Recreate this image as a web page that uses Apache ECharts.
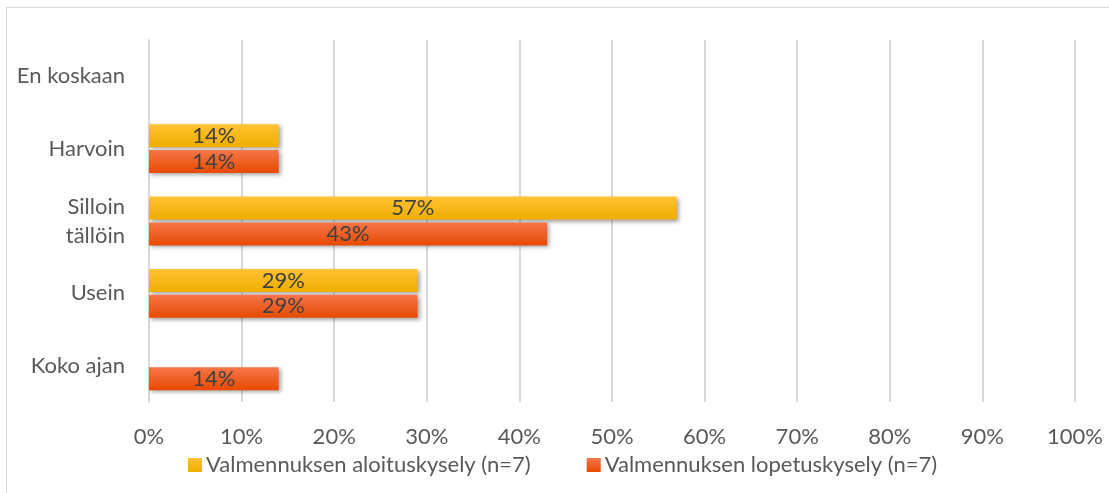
<!DOCTYPE html>
<html>
<head>
<meta charset="utf-8">
<script src="https://cdn.jsdelivr.net/npm/echarts@6/dist/echarts.min.js"></script>
<style>
html,body{margin:0;padding:0;background:#fff;}
#c{width:1109px;height:493px;}
</style>
</head>
<body>
<div id="c"></div>
<script>
const categories = ['En koskaan', 'Harvoin', 'Silloin\ntällöin', 'Usein', 'Koko ajan'];
const seriesNames = ['Valmennuksen aloituskysely (n=7)', 'Valmennuksen lopetuskysely (n=7)'];
const aloitus = [0, 14, 57, 29, 0];
const lopetus = [0, 14, 43, 29, 14];
const xTicks = [0, 10, 20, 30, 40, 50, 60, 70, 80, 90, 100];

const FONT = 'Lato';
const FS = 22;
const chart = echarts.init(document.getElementById('c'));

function grad(c1, c2) {
  return new echarts.graphic.LinearGradient(0, 0, 0, 1, [
    {offset: 0, color: c1}, {offset: 1, color: c2}
  ]);
}
const label = {
  show: true, position: 'inside', color: '#404040', fontSize: FS, fontFamily: FONT,
  formatter: p => p.value > 0 ? p.value + '%' : ''
};
const common = {
  type: 'bar', barWidth: 23, barGap: '12%', label: label,
  itemStyle: {shadowColor: 'rgba(0,0,0,0.35)', shadowBlur: 4, shadowOffsetX: 2, shadowOffsetY: 2}
};

chart.setOption({
  animation: false,
  textStyle: {fontFamily: FONT},
  graphic: [{
    type: 'rect', shape: {x: 6.5, y: 7.5, width: 1200, height: 600},
    style: {fill: 'none', stroke: '#d9d9d9', lineWidth: 1}, silent: true
  }],
  grid: {left: 149, right: 34, top: 40, bottom: 91, containLabel: false},
  legend: {
    top: 449, left: 183, itemWidth: 14, itemHeight: 14, itemGap: 56,
    icon: 'rect',
    textStyle: {color: '#595959', fontSize: FS, fontFamily: FONT, padding: [0, 0, 0, -1]},
    data: seriesNames
  },
  xAxis: {
    type: 'value', min: 0, max: 100, interval: 10,
    axisLine: {show: false}, axisTick: {show: false},
    splitLine: {show: true, lineStyle: {color: '#d9d9d9', width: 2}},
    axisLabel: {
      color: '#595959', fontSize: FS, fontFamily: FONT, margin: 24,
      formatter: v => xTicks.includes(v) ? v + '%' : ''
    }
  },
  yAxis: {
    type: 'category', inverse: true, data: categories,
    axisLine: {show: true, lineStyle: {color: '#d9d9d9', width: 2}},
    axisTick: {show: false},
    axisLabel: {color: '#595959', fontSize: FS, fontFamily: FONT, margin: 24, align: 'right',
      lineHeight: 29}
  },
  series: [
    Object.assign({}, common, {name: seriesNames[0], data: aloitus,
      itemStyle: Object.assign({}, common.itemStyle, {color: grad('#FFC233', '#F0AE00')})}),
    Object.assign({}, common, {name: seriesNames[1], data: lopetus,
      itemStyle: Object.assign({}, common.itemStyle, {color: grad('#F5764A', '#E84A00')})})
  ]
});
</script>
</body>
</html>
